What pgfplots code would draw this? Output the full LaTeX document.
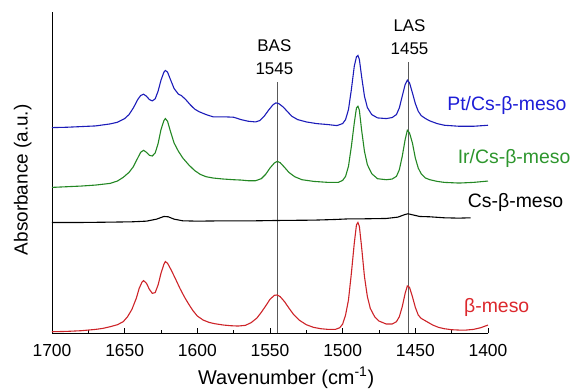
\documentclass[border=0pt]{standalone}
\usepackage{fontspec}
\setmainfont{Liberation Sans}
\usepackage{pgfplots}
\pgfplotsset{compat=1.18}
\definecolor{cblue}{RGB}{28,28,185}
\definecolor{cgreen}{RGB}{35,135,35}
\definecolor{cred}{RGB}{205,35,40}
\definecolor{lblue}{RGB}{30,30,215}
\definecolor{lgreen}{RGB}{45,150,45}
\definecolor{lred}{RGB}{220,40,45}
\begin{document}
\begin{tikzpicture}
\useasboundingbox (-52bp,-58.6bp) rectangle (524bp,333.4bp);
\begin{axis}[
  at={(0,0)}, anchor=south west,
  scale only axis, width=436bp, height=321.4bp,
  xmin=1400, xmax=1700, x dir=reverse, ymin=0, ymax=962,
  axis x line*=bottom, axis y line*=left,
  axis line style={line width=0.8bp},
  ytick=\empty,
  xtick={1400,1450,...,1700}, minor x tick num=1,
  tick align=inside, major tick length=5bp, minor tick length=3bp,
  tick style={line width=0.7bp, black},
  /pgf/number format/1000 sep={},
  /pgf/number format/assume math mode=true,
  xticklabel style={font=\fontsize{17.5}{19}\selectfont, yshift=-7bp},
  xlabel={Wavenumber (cm\textsuperscript{-1})},
  ylabel={Absorbance (a.u.)},
  every axis x label/.style={at={(axis description cs:0.537,-0.138)}, anchor=center, font=\fontsize{20}{22}\selectfont},
  every axis y label/.style={at={(axis description cs:-0.067,0.478)}, rotate=90, anchor=center, font=\fontsize{19}{21}\selectfont},
  clip=false,
  every axis plot/.append style={line width=1.1bp},
]
% reference lines
\addplot[black!65, line width=0.6bp] coordinates {(1545,0) (1545,752)};
\addplot[black!65, line width=0.6bp] coordinates {(1455,0) (1455,812)};

% beta-meso (red)
\addplot[cred] coordinates {
(1700,5) (1690,6) (1680,8) (1670,12) (1665,15) (1660,20) (1655,26) (1651,35) (1648,50) (1645,72) (1642,105) (1640,135) (1638,154) (1637,158) (1635,150) (1633,132) (1631,120) (1629,122) (1627,145) (1625,180) (1623,207) (1622,215) (1620.5,210) (1618,190) (1615,163) (1612,135) (1609,110) (1606,88) (1603,68) (1600,52) (1596,40) (1592,33) (1588,29) (1582,25) (1577,23) (1572,22) (1567,24) (1563,32) (1559,46) (1556,63) (1553,82) (1550,102) (1547,114) (1545,115) (1543,110) (1540,95) (1537,76) (1534,58) (1530,40) (1525,26) (1520,18) (1515,14) (1510,12) (1505,12) (1502,17) (1500,28) (1498,55) (1496,100) (1494,180) (1492,270) (1490.5,325) (1489.5,332) (1488.5,320) (1487,260) (1485,170) (1483,110) (1481,75) (1478,50) (1475,37) (1470,28) (1466,28) (1463,35) (1461,50) (1459,80) (1457,120) (1455.5,142) (1454,138) (1452,110) (1450,78) (1448,55) (1446,45) (1444,40) (1442,35) (1438,25) (1434,18) (1430,14) (1425,11) (1420,10) (1415,10) (1410,12) (1405,17) (1400,25)
};
% Cs-beta-meso (black)
\addplot[black] coordinates {
(1700,332) (1680,332) (1660,333) (1645,334) (1635,336) (1628,342) (1623,350) (1620,349) (1616,342) (1610,337) (1600,336) (1580,337) (1560,337) (1545,338) (1520,339) (1505,341) (1495,343) (1485,343) (1470,344) (1462,348) (1457,356) (1455,358) (1452,355) (1447,350) (1440,349) (1430,346) (1420,345) (1412,346)
};
% Ir/Cs-beta-meso (green)
\addplot[cgreen] coordinates {
(1700,437) (1690,439) (1680,441) (1670,444) (1660,449) (1655,456) (1651,467) (1647,482) (1644,499) (1641,525) (1639,542) (1637,548) (1635,542) (1633,533) (1631,531) (1629,540) (1627,568) (1625,610) (1623,637) (1622,643) (1620.5,635) (1618.5,605) (1616,570) (1613,545) (1610,525) (1606,505) (1602,488) (1598,476) (1594,469) (1589,465) (1582,462) (1575,460) (1570,459) (1565,457) (1560,457) (1556,463) (1553,476) (1550,495) (1547,510) (1545,515) (1543,511) (1540,497) (1537,482) (1533,469) (1528,460) (1520,455) (1510,452) (1503,452) (1500,458) (1498,470) (1496,500) (1494,560) (1492,630) (1490.5,675) (1489.5,680) (1488.5,668) (1487,610) (1485,545) (1483,505) (1480,478) (1476,463) (1470,460) (1466,462) (1463,470) (1461,490) (1459,530) (1457,580) (1455.5,608) (1454,600) (1452,570) (1450,525) (1448,495) (1446,478) (1443,465) (1440,460) (1435,455) (1430,452) (1420,450) (1410,452) (1400,456)
};
% Pt/Cs-beta-meso (blue)
\addplot[cblue] coordinates {
(1700,616) (1690,617) (1680,619) (1670,621) (1660,627) (1655,632) (1650,643) (1647,655) (1644,675) (1641,700) (1639,712) (1637,716) (1635,710) (1633,700) (1631,696) (1629,702) (1627,725) (1625,758) (1623,782) (1622,787) (1620.5,782) (1618.5,760) (1616,733) (1613,716) (1611,712) (1608,700) (1605,685) (1602,672) (1599,664) (1594,655) (1589,648) (1580,648) (1575,647) (1570,640) (1565,635) (1560,633) (1557,637) (1554,650) (1551,668) (1548,684) (1546,690) (1544,688) (1541,678) (1538,664) (1535,650) (1531,640) (1525,633) (1518,628) (1510,625) (1504,622) (1500,628) (1498,640) (1496,670) (1494,730) (1492,800) (1490.5,828) (1489.5,832) (1488.5,820) (1487,770) (1485,710) (1483,676) (1480,655) (1476,645) (1470,643) (1466,646) (1463,655) (1461,675) (1459,710) (1457,745) (1455.5,758) (1454,750) (1452,720) (1450,688) (1448,665) (1446,652) (1443,643) (1440,636) (1435,628) (1430,623) (1420,620) (1410,620) (1400,623)
};

\node[font=\fontsize{17}{19}\selectfont] at (axis cs:1547,862) {BAS};
\node[font=\fontsize{17}{19}\selectfont] at (axis cs:1547,792) {1545};
\node[font=\fontsize{17}{19}\selectfont] at (axis cs:1454,922) {LAS};
\node[font=\fontsize{17}{19}\selectfont] at (axis cs:1454,852) {1455};

\node[font=\fontsize{19.5}{21}\selectfont, text=lblue] at (axis cs:1387,683) {Pt/Cs-β-meso};
\node[font=\fontsize{19.5}{21}\selectfont, text=lgreen] at (axis cs:1382,525) {Ir/Cs-β-meso};
\node[font=\fontsize{19.5}{21}\selectfont, text=black] at (axis cs:1381,393) {Cs-β-meso};
\node[font=\fontsize{19.5}{21}\selectfont, text=lred] at (axis cs:1394,79) {β-meso};
\end{axis}
\end{tikzpicture}
\end{document}
